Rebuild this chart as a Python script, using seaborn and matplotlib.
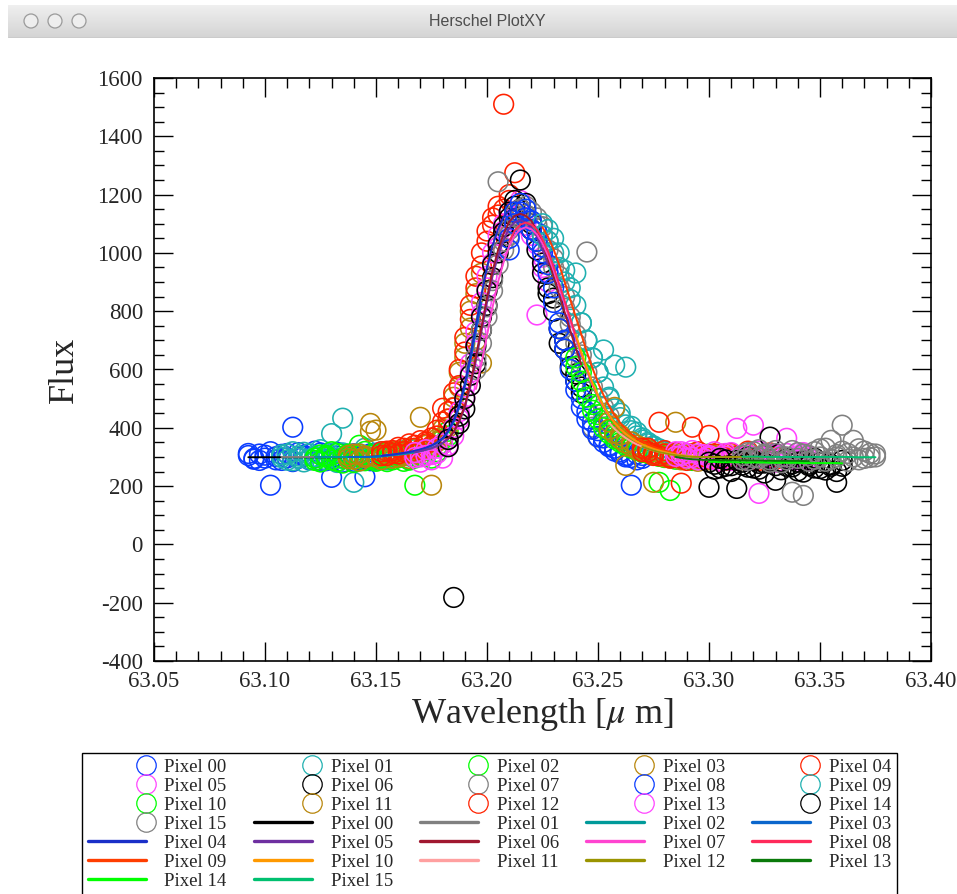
import numpy as np
import pandas as pd
import matplotlib
matplotlib.use("Agg")
import matplotlib.pyplot as plt
import seaborn as sns
from matplotlib.lines import Line2D
from matplotlib.patches import Circle
from matplotlib.legend_handler import HandlerLine2D
from matplotlib.ticker import MultipleLocator, FormatStrFormatter

# ---------------- data ----------------
WAVE = [63.0925, 63.0950, 63.0975, 63.1000, 63.1025, 63.1050, 63.1075, 63.1100, 63.1125, 63.1150,
        63.1175, 63.1200, 63.1225, 63.1250, 63.1275, 63.1300, 63.1325, 63.1350, 63.1375, 63.1400,
        63.1425, 63.1450, 63.1475, 63.1500, 63.1525, 63.1550, 63.1575, 63.1600, 63.1625, 63.1650,
        63.1675, 63.1700, 63.1725, 63.1750, 63.1775, 63.1800, 63.1825, 63.1850, 63.1875, 63.1900,
        63.1925, 63.1950, 63.1975, 63.2000, 63.2025, 63.2050, 63.2075, 63.2100, 63.2125, 63.2150,
        63.2175, 63.2200, 63.2225, 63.2250, 63.2275, 63.2300, 63.2325, 63.2350, 63.2375, 63.2400,
        63.2425, 63.2450, 63.2475, 63.2500, 63.2525, 63.2550, 63.2575, 63.2600, 63.2625, 63.2650,
        63.2675, 63.2700, 63.2725, 63.2750, 63.2775, 63.2800, 63.2825, 63.2850, 63.2875, 63.2900,
        63.2925, 63.2950, 63.2975, 63.3000, 63.3025, 63.3050, 63.3075, 63.3100, 63.3125, 63.3150,
        63.3175, 63.3200, 63.3225, 63.3250, 63.3275, 63.3300, 63.3325, 63.3350, 63.3375, 63.3400,
        63.3425, 63.3450, 63.3475, 63.3500, 63.3525, 63.3550, 63.3575, 63.3600, 63.3625, 63.3650,
        63.3675, 63.3700, 63.3725, 63.3750]

PIXELS = ["Pixel 00", "Pixel 01", "Pixel 02", "Pixel 03", "Pixel 04", "Pixel 05", "Pixel 06", "Pixel 07",
          "Pixel 08", "Pixel 09", "Pixel 10", "Pixel 11", "Pixel 12", "Pixel 13", "Pixel 14", "Pixel 15"]

# index of the first wavelength sample covered by each pixel
START = [0, 6, 12, 18, 24, 30, 36, 41, 47, 53, 59, 65, 71, 77, 83, 89]

# scan A
FLUX_00 = [305, 292, 310, 296, 203, 301, 288, 312, 402, 295, 306, 290, 299, 314, 287, 230, 303, 296, 309, 285, 300, 232, 311, 294, 305]
FLUX_01 = [298, 310, 287, 303, 316, 292, 300, 284, 308, 380, 295, 433, 301, 213, 311, 289, 305, 296, 318, 290, 307, 299, 322, 303, 312]
FLUX_02 = [296, 283, 305, 290, 312, 279, 301, 294, 340, 287, 306, 292, 300, 284, 310, 297, 318, 289, 203, 305, 322, 296, 336, 345, 372]
FLUX_03 = [305, 292, 310, 298, 415, 392, 303, 312, 296, 320, 305, 330, 312, 436, 325, 203, 352, 368, 402, 470, 540, 642, 742, 700, 622]
FLUX_04 = [318, 305, 322, 310, 330, 315, 340, 325, 352, 338, 372, 467, 430, 468, 545, 660, 772, 880, 955, 1040, 1095, 1130, 1510, 1180, 1275]
FLUX_05 = [298, 282, 305, 290, 312, 296, 340, 372, 430, 505, 590, 690, 790, 880, 965, 1020, 1075, 1100, 1125, 1180, 1095, 1060, 787, 985, 935]
FLUX_06 = [335, -182, 415, 465, 545, 620, 735, 820, 915, 1000, 1070, 1120, 1160, 1250, 1170, 1100, 1040, 965, 880, 845, 690, 700, 640, 585, 540]
FLUX_07 = [640, 735, 815, 905, 1244, 1040, 1080, 1100, 1120, 1130, 1110, 1095, 1060, 1010, 950, 880, 810, 755, 690, 620, 1003, 402, 368, 450, 420]
FLUX_08 = [1050, 1100, 1140, 1120, 1080, 1040, 1000, 960, 880, 760, 700, 640, 560, 500, 455, 420, 390, 365, 340, 330, 318, 300, 203, 290, 305]
FLUX_09 = [1060, 1040, 1000, 950, 900, 840, 931, 760, 700, 640, 590, 667, 505, 615, 450, 608, 405, 385, 365, 350, 338, 328, 320, 312, 306]
FLUX_10 = [640, 590, 530, 480, 445, 415, 392, 372, 358, 345, 335, 327, 320, 315, 310, 213, 305, 185, 302, 298, 306, 295, 300, 292, 304]
FLUX_11 = [420, 470, 375, 271, 352, 340, 332, 325, 213, 316, 312, 307, 419, 302, 298, 305, 296, 300, 290, 303, 297, 292, 301, 288, 298]
FLUX_12 = [330, 318, 305, 419, 310, 296, 303, 210, 312, 402, 298, 305, 374, 292, 300, 310, 288, 302, 295, 307, 290, 299, 306, 285, 300]
FLUX_13 = [318, 305, 312, 298, 310, 295, 305, 290, 300, 312, 288, 398, 296, 305, 409, 175, 300, 292, 308, 285, 364, 298, 290, 304, 296]
FLUX_14 = [196, 275, 262, 290, 270, 192, 282, 265, 288, 258, 279, 368, 220, 284, 268, 276, 252, 286, 270, 262, 281, 255, 274, 213, 268]
FLUX_15 = [305, 288, 318, 296, 310, 282, 322, 300, 290, 179, 315, 168, 305, 292, 328, 285, 357, 300, 409, 312, 357, 290, 320, 298, 310]

# scan B
FLUXB_00 = [312, 295, 288, 306, 318, 290, 309, 297, 284, 315, 302, 293, 320, 288, 305, 297, 316, 282, 300, 311, 291, 304, 287, 313, 298]
FLUXB_01 = [307, 289, 318, 296, 283, 311, 302, 325, 290, 305, 281, 314, 297, 308, 286, 330, 299, 288, 310, 295, 302, 317, 306, 292, 325]
FLUXB_02 = [288, 307, 299, 318, 285, 296, 310, 281, 304, 319, 293, 285, 312, 301, 290, 305, 285, 312, 296, 318, 305, 330, 318, 360, 388]
FLUXB_03 = [294, 310, 286, 303, 388, 300, 291, 306, 318, 300, 312, 295, 328, 316, 340, 333, 362, 395, 430, 505, 590, 690, 800, 860, 930]
FLUXB_04 = [305, 320, 312, 333, 318, 345, 330, 356, 345, 365, 392, 420, 455, 520, 600, 710, 820, 920, 1000, 1075, 1120, 1160, 1150, 1200, 1140]
FLUXB_05 = [315, 300, 325, 308, 330, 345, 360, 400, 455, 540, 620, 730, 830, 920, 1000, 1060, 1100, 1140, 1110, 1150, 1120, 1080, 1030, 950, 900]
FLUXB_06 = [360, 395, 440, 500, 580, 680, 780, 870, 960, 1030, 1090, 1140, 1180, 1150, 1130, 1080, 1010, 930, 860, 800, 740, 670, 610, 560, 520]
FLUXB_07 = [600, 690, 780, 870, 960, 1010, 1060, 1130, 1150, 1160, 1140, 1120, 1090, 1040, 980, 920, 850, 780, 720, 650, 590, 540, 500, 470, 440]
FLUXB_08 = [1010, 1140, 1170, 1150, 1110, 1070, 1020, 930, 830, 740, 670, 600, 530, 470, 430, 395, 370, 350, 335, 320, 312, 305, 298, 310, 295]
FLUXB_09 = [1100, 1080, 1050, 1000, 940, 880, 820, 760, 700, 640, 590, 540, 500, 465, 435, 410, 390, 372, 358, 345, 335, 326, 318, 312, 306]
FLUXB_10 = [610, 560, 505, 460, 430, 400, 380, 362, 350, 338, 330, 322, 316, 312, 306, 302, 298, 305, 292, 300, 310, 288, 304, 296, 310]
FLUXB_11 = [395, 380, 362, 348, 338, 330, 322, 316, 310, 305, 300, 296, 308, 290, 304, 312, 285, 300, 306, 292, 310, 288, 296, 305, 290]
FLUXB_12 = [318, 330, 312, 304, 322, 300, 315, 296, 288, 306, 318, 292, 300, 310, 285, 298, 312, 290, 305, 320, 295, 288, 302, 314, 292]
FLUXB_13 = [302, 318, 296, 322, 290, 308, 300, 318, 285, 302, 315, 292, 306, 288, 300, 320, 295, 310, 282, 304, 312, 290, 300, 315, 288]
FLUXB_14 = [282, 258, 295, 268, 250, 288, 272, 300, 262, 278, 245, 290, 270, 256, 294, 266, 282, 248, 275, 296, 260, 284, 268, 250, 288]
FLUXB_15 = [290, 315, 298, 325, 305, 290, 312, 280, 300, 322, 295, 310, 285, 318, 300, 330, 292, 308, 320, 285, 300, 328, 295, 312, 300]

# fitted profiles
FIT_00 = [299, 299, 299, 299, 299, 299, 299, 299, 299, 299, 299, 299, 299, 299, 299, 299, 299, 299, 300, 300, 300, 300, 300, 301, 302]
FIT_01 = [300, 300, 300, 300, 300, 300, 300, 300, 300, 300, 300, 300, 300, 300, 300, 300, 300, 300, 302, 304, 306, 308, 310, 313, 316]
FIT_02 = [300, 300, 300, 300, 300, 300, 300, 300, 300, 300, 300, 300, 302, 304, 306, 308, 310, 313, 316, 320, 325, 330, 338, 348, 362]
FIT_03 = [300, 300, 300, 300, 300, 302, 304, 306, 308, 310, 313, 316, 320, 325, 330, 338, 348, 362, 385, 420, 470, 540, 630, 730, 830]
FIT_04 = [304, 306, 308, 311, 314, 317, 321, 326, 332, 340, 350, 365, 389, 426, 479, 552, 647, 752, 857, 951, 1025, 1082, 1124, 1145, 1152]
FIT_05 = [316, 320, 325, 330, 338, 348, 362, 385, 420, 470, 540, 630, 730, 830, 920, 990, 1045, 1085, 1105, 1112, 1105, 1088, 1055, 1012, 960]
FIT_06 = [363, 387, 424, 475, 551, 643, 745, 847, 938, 1010, 1066, 1107, 1127, 1134, 1127, 1110, 1076, 1032, 979, 918, 857, 796, 734, 673, 617]
FIT_07 = [533, 620, 717, 814, 901, 969, 1023, 1061, 1081, 1088, 1081, 1064, 1032, 991, 940, 882, 824, 766, 707, 649, 596, 547, 506, 470, 439]
FIT_08 = [1038, 1077, 1097, 1104, 1097, 1080, 1047, 1005, 953, 894, 835, 775, 716, 656, 602, 552, 510, 473, 442, 416, 395, 378, 364, 352, 343]
FIT_09 = [1088, 1055, 1012, 960, 900, 840, 780, 720, 660, 605, 555, 512, 475, 443, 417, 396, 379, 365, 353, 343, 335, 328, 322, 317, 313]
FIT_10 = [720, 660, 605, 555, 512, 475, 443, 417, 396, 379, 365, 353, 343, 335, 328, 322, 317, 313, 309, 306, 304, 302, 300, 300, 300]
FIT_11 = [417, 396, 379, 365, 353, 343, 335, 328, 322, 317, 313, 309, 306, 304, 302, 300, 300, 300, 300, 300, 300, 300, 300, 300, 300]
FIT_12 = [335, 328, 322, 317, 313, 309, 306, 304, 302, 300, 300, 300, 300, 300, 300, 300, 300, 300, 300, 300, 300, 300, 300, 300, 300]
FIT_13 = [300, 297, 294, 292, 291, 290, 290, 289, 289, 289, 288, 288, 288, 288, 287, 287, 287, 287, 286, 286, 286, 286, 286, 286, 285]
FIT_14 = [283, 283, 282, 282, 282, 282, 281, 281, 281, 281, 281, 280, 280, 280, 280, 280, 280, 279, 279, 279, 279, 279, 279, 279, 278]
FIT_15 = [301, 301, 301, 301, 300, 300, 300, 300, 300, 300, 300, 300, 300, 300, 300, 300, 300, 300, 300, 300, 299, 299, 299, 299, 299]

FLUXES_A = [FLUX_00, FLUX_01, FLUX_02, FLUX_03, FLUX_04, FLUX_05, FLUX_06, FLUX_07,
            FLUX_08, FLUX_09, FLUX_10, FLUX_11, FLUX_12, FLUX_13, FLUX_14, FLUX_15]
FLUXES_B = [FLUXB_00, FLUXB_01, FLUXB_02, FLUXB_03, FLUXB_04, FLUXB_05, FLUXB_06, FLUXB_07,
            FLUXB_08, FLUXB_09, FLUXB_10, FLUXB_11, FLUXB_12, FLUXB_13, FLUXB_14, FLUXB_15]
FITS = [FIT_00, FIT_01, FIT_02, FIT_03, FIT_04, FIT_05, FIT_06, FIT_07,
        FIT_08, FIT_09, FIT_10, FIT_11, FIT_12, FIT_13, FIT_14, FIT_15]

POINT_COLORS = ["#0a3cff", "#1fb0b0", "#00ff00", "#b8860b", "#ff2200", "#ff44ff", "#000000", "#808080",
                "#0a3cff", "#1fb0b0", "#00ff00", "#b8860b", "#ff2200", "#ff44ff", "#000000", "#808080"]
LINE_COLORS = ["#000000", "#808080", "#009a9a", "#0a66cc", "#1a2fc8", "#6e2fa0", "#a01830", "#ff44d0",
               "#ff2a5a", "#ff3d00", "#ff9900", "#ffa0a0", "#9a9400", "#0a7a0a", "#00ff00", "#00c070"]

# ---------------- tables ----------------
pts_rows, fit_rows = [], []
for name, s, fa, fb, ft in zip(PIXELS, START, FLUXES_A, FLUXES_B, FITS):
    for j, v in enumerate(fa):
        pts_rows.append((name, WAVE[s + j], v))
    for j, v in enumerate(fb):
        pts_rows.append((name, WAVE[s + j], v))
    for j, v in enumerate(ft):
        fit_rows.append((name, WAVE[s + j], v))
pts = pd.DataFrame(pts_rows, columns=["pixel", "wavelength", "flux"])
fits = pd.DataFrame(fit_rows, columns=["pixel", "wavelength", "flux"])

# ---------------- style ----------------
sns.set_style("ticks")
plt.rcParams["font.family"] = ["Liberation Serif", "DejaVu Serif"]
plt.rcParams["mathtext.fontset"] = "stix"
plt.rcParams["axes.unicode_minus"] = False

W, H = 957, 894
fig = plt.figure(figsize=(W / 100, H / 100), dpi=100)
fig.patch.set_facecolor("white")

# window title bar
bar = fig.add_axes([8 / W, 1 - 38 / H, (W - 8) / W, 33 / H])
grad = np.linspace(0, 1, 33).reshape(-1, 1)
bar.imshow(grad, aspect="auto",
           cmap=matplotlib.colors.LinearSegmentedColormap.from_list("g", ["#efefef", "#d4d4d4"]),
           extent=[0, W - 8, 33, 0])
bar.set_xlim(0, W - 8)
bar.set_ylim(33, 0)
bar.axis("off")
bar.axhline(32.5, color="#aaaaaa", lw=1)
for cx in (23, 47, 71):
    bar.add_patch(Circle((cx, 16), 7, facecolor="#eeeeee", edgecolor="#9a9a9a", lw=0.9))
bar.text(479, 16, "Herschel PlotXY", ha="center", va="center", color="#4d4d4d",
         fontsize=11.5, family=["Liberation Sans", "DejaVu Sans"])

ax = fig.add_axes([154 / W, 1 - 661 / H, (931 - 154) / W, (661 - 78) / H])

pal_pts = dict(zip(PIXELS, POINT_COLORS))
pal_fit = dict(zip(PIXELS, LINE_COLORS))

sns.scatterplot(data=pts, x="wavelength", y="flux", hue="pixel", hue_order=PIXELS,
                palette=pal_pts, s=200, marker="o", legend=False, ax=ax, zorder=2)
coll = ax.collections[-1]
fc = coll.get_facecolors()
coll.set_edgecolors(fc)
coll.set_facecolors("none")
coll.set_linewidths(1.15)

sns.lineplot(data=fits, x="wavelength", y="flux", hue="pixel", hue_order=PIXELS,
             palette=pal_fit, estimator=None, sort=False, linewidth=1.4, legend=False,
             ax=ax, zorder=3)

ax.set_xlim(63.05, 63.40)
ax.set_ylim(-400, 1600)
ax.xaxis.set_major_locator(MultipleLocator(0.05))
ax.xaxis.set_minor_locator(MultipleLocator(0.01))
ax.xaxis.set_major_formatter(FormatStrFormatter("%.2f"))
ax.yaxis.set_major_locator(MultipleLocator(200))
ax.yaxis.set_minor_locator(MultipleLocator(50))
ax.tick_params(which="both", direction="in", top=True, right=True, width=1.0, color="black")
ax.tick_params(which="major", length=13.5, labelsize=16.5)
ax.tick_params(which="minor", length=7)
ax.tick_params(axis="x", which="major", pad=7)
ax.tick_params(axis="y", which="major", pad=8)
for sp in ax.spines.values():
    sp.set_linewidth(1.2)
    sp.set_color("black")
ax.set_xlabel("Wavelength [$\\mu$ m]", fontsize=26, labelpad=3)
ax.set_ylabel("Flux", fontsize=26, labelpad=12)
ax.grid(False)


# ---------------- legend ----------------
class RightMarker(HandlerLine2D):
    def get_xdata(self, legend, xdescent, ydescent, width, height, fontsize):
        x_end = -xdescent + width
        return np.array([x_end - 1.0, x_end + 1.0]), np.array([x_end])


marker_handles = [Line2D([], [], linestyle="none", marker="o", markersize=14,
                         markerfacecolor="none", markeredgecolor=c, markeredgewidth=0.9)
                  for c in POINT_COLORS]
line_handles = [Line2D([], [], color=c, lw=2.4) for c in LINE_COLORS]
entries = list(zip(marker_handles, PIXELS)) + list(zip(line_handles, PIXELS))
ncol, nrow = 5, 7
ordered = [entries[r * ncol + c] for c in range(ncol) for r in range(nrow) if r * ncol + c < len(entries)]
handles = [h for h, _ in ordered]
labels = [l for _, l in ordered]

leg = fig.legend(handles, labels, ncol=ncol, loc="upper left",
                 bbox_to_anchor=(82 / W, 0, (897 - 82) / W, 1 - 753 / H),
                 bbox_transform=fig.transFigure, mode="expand", borderaxespad=0,
                 fontsize=13.5, handlelength=3.1, handletextpad=1.0, labelspacing=0.1,
                 borderpad=0.3, numpoints=1, fancybox=False, framealpha=1, edgecolor="black",
                 handler_map={h: RightMarker(numpoints=1) for h in marker_handles})
leg.get_frame().set_linewidth(1.0)

fig.savefig("out.png", dpi=100, facecolor="white")
